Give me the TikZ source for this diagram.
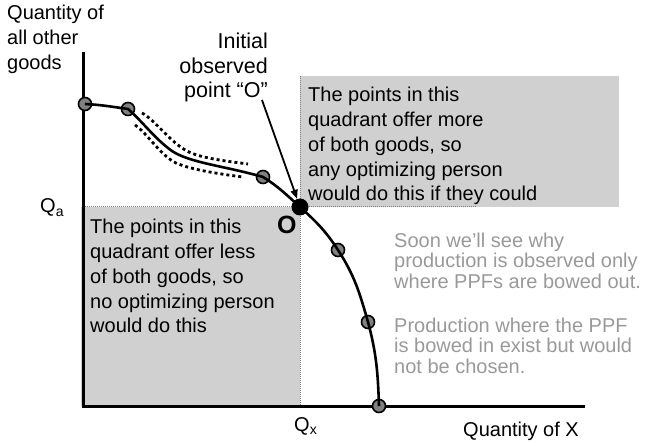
\documentclass[tikz,border=0pt]{standalone}
\usepackage{fontspec}
\setmainfont{Liberation Sans}
\usepackage{xcolor}
\usetikzlibrary{arrows.meta,positioning,calc}
\definecolor{boxgrey}{RGB}{208,208,208}
\definecolor{ptgrey}{RGB}{128,128,128}
\definecolor{notegrey}{RGB}{153,153,153}

\begin{document}
\begin{tikzpicture}[x=1pt,y=1pt,>={Triangle[length=9pt,width=7pt]},
  every node/.style={inner sep=0pt},
  txt/.style={font=\fontsize{20}{24.8}\selectfont,align=left},
  note/.style={font=\fontsize{20}{20.3}\selectfont,align=left,text=notegrey},
  ppfpt/.style={circle,draw=black,line width=1.6pt,fill=ptgrey,minimum size=13pt},
  obs/.style={circle,fill=black,minimum size=17pt},
  edgedots/.style={draw=ptgrey,dash pattern=on 1pt off 1pt,line width=1pt},
  bowdots/.style={dash pattern=on 3pt off 3pt,line width=2.8pt}]
\useasboundingbox (0,0) rectangle (645,-443);
% quadrants
\fill[boxgrey] (81,-207) rectangle (300,-406);
\fill[boxgrey] (300,-76) rectangle (619,-207);
\coordinate (qa) at (83,-207);
\coordinate (qx) at (300,-406);
\draw[edgedots] (qa) -- (477,-207);
\draw[edgedots] (300,-76) -- (qx);
% axes
\draw[line width=3pt] (83,-52) -- (83,-406) -- (585,-406);
% points on the PPF
\node[ppfpt] (p1) at (85,-104) {};
\node[ppfpt] (p2) at (128,-109) {};
\node[ppfpt] (p3) at (263,-177) {};
\node[obs]   (O)  at (300,-207) {};
\node[ppfpt] (p4) at (338,-250) {};
\node[ppfpt] (p5) at (368,-322) {};
\node[ppfpt] (p6) at (379,-406) {};
% the PPF
\draw[line width=2.6pt] (p1.center) to[out=-3,in=172] (p2.center)
  .. controls (142,-121) and (155,-139) .. (172,-151)
  .. controls (190,-163) and (225,-166) .. (p3.center)
  to[out=-32,in=138] (O.center)
  to[out=-42,in=123] (p4.center)
  to[out=-57,in=106] (p5.center)
  to[out=-75,in=92] (p6.center);
\draw[bowdots] (142,-113) .. controls (155,-120) and (170,-142) .. (187,-151)
  .. controls (200,-158) and (225,-161) .. (248,-164);
\draw[bowdots] (135,-125) .. controls (148,-134) and (160,-155) .. (176,-163)
  .. controls (192,-170) and (220,-174) .. (243,-177);
% labels
\node[txt,anchor=north west] (ylab) at (7,-5) {Quantity of\\all other\\goods};
\node[txt,anchor=base west] (xlab) at (463,-436) {Quantity of X};
\node[txt,anchor=base west] (qalab) at (40,-213) {Q\textsubscript{a}};
\node[txt,anchor=base west] (qxlab) at (294,-431) {Q\textsubscript{x}};
\node[font=\fontsize{25}{25}\selectfont\bfseries,anchor=base west] (olab) at (277,-234) {O};
\node[txt,font=\fontsize{21.5}{24.5}\selectfont,align=right,anchor=north east] (init) at (268,-33)
  {Initial\\observed\\point “O”};
\coordinate (tail) at (262,-100);
\draw[->,line width=1.8pt] (tail) -- (O);
\node[txt,anchor=north west] (better) at (308,-87)
  {The points in this\\quadrant offer more\\of both goods, so\\any optimizing person\\would do this if they could};
\node[txt,anchor=north west] (worse) at (90,-219)
  {The points in this\\quadrant offer less\\of both goods, so\\no optimizing person\\would do this};
\node[note,anchor=north west] (soon) at (394,-233)
  {Soon we’ll see why\\production is observed only\\where PPFs are bowed out.};
\node[note,anchor=north west] (bowin) at (394,-318)
  {Production where the PPF\\is bowed in exist but would\\not be chosen.};
\end{tikzpicture}
\end{document}
